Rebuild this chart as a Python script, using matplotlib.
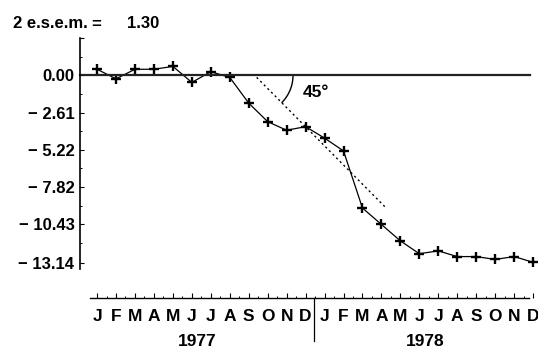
import numpy as np
import matplotlib.pyplot as plt
from matplotlib.patches import Arc
from matplotlib.transforms import ScaledTranslation

plt.rcParams['font.family'] = ['Liberation Sans', 'DejaVu Sans']
plt.rcParams['font.weight'] = 'bold'

# monthly values, Jan 1977 .. Dec 1978
months = ['J', 'F', 'M', 'A', 'M', 'J', 'J', 'A', 'S', 'O', 'N', 'D'] * 2
values = [0.42, -0.25, 0.42, 0.42, 0.62, -0.5, 0.25, -0.15, -1.95, -3.25, -3.85, -3.6,
          -4.4, -5.3, -9.3, -10.45, -11.6, -12.5, -12.3, -12.7, -12.7, -12.9, -12.7, -13.1]
years = ['1977', '1978']
year_centres = [5.3, 17.3]

# y scale: steps of 2 e.s.e.m.
ytick_vals = [2.61, 0.0, -2.61, -5.22, -7.82, -10.43, -13.14]
ytick_labels = ['', '0.00', '\u2212 2.61', '\u2212 5.22', '\u2212 7.82', '\u2212 10.43', '\u2212 13.14']

# 45 degree reference line
tangent_x = [8.42, 15.25]
tangent_y = [-0.15, -9.3]
arc_centre = (8.28, 0.0)

fig = plt.figure(figsize=(5.38, 3.5), dpi=100)
ax = fig.add_axes([80/538, (350-269)/350, 458/538, 231/350])

x = np.arange(len(values))
ax.plot(x, values, color='black', lw=0.9, marker='+', ms=7, mew=1.7, clip_on=False)
ax.plot(tangent_x, tangent_y, color='black', lw=1.0, ls=(0, (1.5, 2.2)))
ax.plot([-0.9, 22.85], [0, 0], color='#222222', lw=1.6, clip_on=False)

arc = Arc((0, 0), 0.78, 0.78, theta1=-45, theta2=0, color='black', lw=1.0,
          transform=fig.dpi_scale_trans + ScaledTranslation(arc_centre[0], arc_centre[1], ax.transData))
ax.add_patch(arc)
ax.text(10.85, -1.2, '45\u00b0', fontsize=12.5, va='center', ha='left')

ax.set_xlim(-0.9, 23.26)
ax.set_ylim(-13.57, 2.61)

for s in ['top', 'right']:
    ax.spines[s].set_visible(False)
ax.spines['left'].set_linewidth(1.2)
ax.spines['bottom'].set_position(('outward', 21))
ax.spines['bottom'].set_bounds(-0.35, 22.8)
ax.spines['bottom'].set_linewidth(1.0)

ax.set_yticks(ytick_vals)
ax.set_yticklabels(ytick_labels)
ax.set_yticks([1.305, -1.305, -3.915, -6.52, -9.125, -11.78], minor=True)
ax.tick_params(axis='y', which='major', direction='in', length=3, width=0.8, pad=4, labelsize=12)
ax.tick_params(axis='y', which='minor', direction='in', length=1.5, width=0.7)

ax.set_xticks(x)
ax.set_xticklabels(months)
ax.set_xticks(x[:-1] + 0.5, minor=True)
ax.tick_params(axis='x', which='major', direction='in', length=3.5, width=0.8, pad=8, labelsize=12.5)
ax.tick_params(axis='x', which='minor', direction='in', length=1.5, width=0.7)

tr = ax.get_xaxis_transform()
for xc, yr in zip(year_centres, years):
    ax.text(xc, -0.316, yr, transform=tr, fontsize=12.5, ha='center', va='center')
ax.plot([11.42, 11.42], [-0.125, -0.31], transform=tr, color='black', lw=0.9, clip_on=False)

# title pieces, spaced as in the original
ty = (350-24)/350
fig.text(13/538, ty, '2 e.s.e.m.', fontsize=12, va='center', ha='left')
fig.text(91/538, ty, '=', fontsize=12, va='center', ha='left')
fig.text(127/538, ty, '1.30', fontsize=12, va='center', ha='left')

fig.savefig('out.png', dpi=100)
